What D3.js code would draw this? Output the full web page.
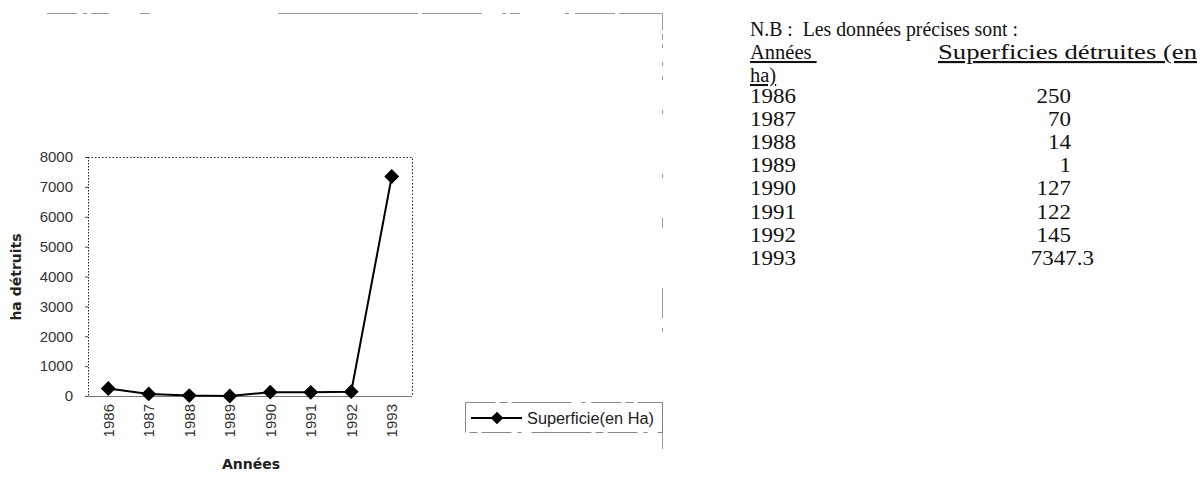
<!DOCTYPE html>
<html><head><meta charset="utf-8">
<script src="https://cdn.jsdelivr.net/npm/d3@7"></script>
<style>body{margin:0;background:#fff}svg{display:block}</style>
</head><body>
<svg id="c" width="1201" height="500"></svg>
<script>
const years = ["1986","1987","1988","1989","1990","1991","1992","1993"];
const values = [250, 70, 14, 1, 127, 122, 145, 7347.3];
const tableValues = ["250","70","14","1","127","122","145","7347.3"];
const yTicks = [0,1000,2000,3000,4000,5000,6000,7000,8000];
const seriesName = "Superficie(en Ha)";
const xTitle = "Années";
const yTitle = "ha détruits";
const noteTitle = "N.B :\u00a0 Les données précises sont :";
const colHead1 = "Années";
const colHead2 = "Superficies détruites (en";
const colHead2b = "ha)";

const svg = d3.select("#c");
const L = 88, R = 412, T = 157, B = 396;
const x = d3.scaleBand().domain(years).range([L, R]);
const y = d3.scaleLinear().domain([0, 8000]).range([B, T]);
const sans = "Liberation Sans, Arial, sans-serif";

// outer chart area border (scanned, broken dashes)
const outer = svg.append("g").attr("fill","none").attr("stroke","#9a9a9a").attr("stroke-width",1);
outer.append("path").attr("d",`M47,13.5H120`).attr("stroke-dasharray","30 6 4 4 18 12");
outer.append("path").attr("d",`M140,13.5H150`);
outer.append("path").attr("d",`M278,13.5H520`).attr("stroke-dasharray","140 4 60 20 4 4");
outer.append("path").attr("d",`M565,13.5H662.5V455`).attr("stroke-dasharray","4 6 40 4 60 4 6 4 4 14 4 10 4 30 4 60 4 40 10 60 30 10 4 70 25 4 18 30 4 40");

// plot frame: dotted top and right, dotted left axis
const frame = svg.append("g").attr("fill","none").attr("stroke","#222").attr("stroke-width",1);
frame.append("path").attr("d",`M${L},${T}.5H${R}.5V${B}`).attr("stroke-dasharray","1.5 2");
frame.append("path").attr("d",`M${L}.5,${T}V${B}`).attr("stroke-dasharray","1.5 1.5");

// y axis
const yAxis = svg.append("g").attr("transform",`translate(${L},0)`)
  .call(d3.axisLeft(y).tickValues(yTicks).tickSize(3).tickPadding(12).tickFormat(d3.format("d")));
yAxis.select(".domain").remove();
yAxis.selectAll(".tick line").attr("stroke","#444");
yAxis.selectAll("text").attr("font-family",sans).attr("font-size",15).attr("fill","#333");

// x axis
const xAxis = svg.append("g").attr("transform",`translate(0,${B})`)
  .call(d3.axisBottom(x).tickSize(0).tickPadding(8));
xAxis.select(".domain").attr("stroke","#777").attr("d",`M${L},0.5H${R}`);
xAxis.selectAll("text")
  .attr("font-family",sans).attr("font-size",15).attr("fill","#333")
  .attr("transform","rotate(-90)").attr("text-anchor","end").attr("dy","0.35em").attr("x",-8).attr("y",0);

// titles
svg.append("text").attr("x",251).attr("y",469).attr("text-anchor","middle")
  .attr("font-family","DejaVu Sans, Verdana, sans-serif").attr("font-weight","bold").attr("font-size",14).attr("fill","#222").text(xTitle);
svg.append("text").attr("transform","translate(21,277) rotate(-90)").attr("text-anchor","middle")
  .attr("font-family","DejaVu Sans, Verdana, sans-serif").attr("font-weight","bold").attr("font-size",14).attr("fill","#222").text(yTitle);

// series
const cx = d => x(d) + x.bandwidth()/2;
const data = years.map((d,i)=>({year:d, v:values[i]}));
svg.append("path").datum(data).attr("fill","none").attr("stroke","#000").attr("stroke-width",2)
  .attr("d", d3.line().x(d=>cx(d.year)).y(d=>y(d.v)));
svg.selectAll(".pt").data(data).join("path").attr("class","pt")
  .attr("d", d3.symbol().type(d3.symbolSquare).size(110))
  .attr("transform",d=>`translate(${cx(d.year)},${y(d.v)}) rotate(45)`)
  .attr("fill","#000");

// legend
const lg = svg.append("g");
lg.append("rect").attr("x",465.5).attr("y",402.5).attr("width",197).attr("height",30)
  .attr("fill","none").attr("stroke","#888").attr("stroke-dasharray","30 4 8 4 60 10 4 6");
lg.append("line").attr("x1",471).attr("x2",522).attr("y1",418).attr("y2",418).attr("stroke","#000").attr("stroke-width",2);
lg.append("path").attr("d", d3.symbol().type(d3.symbolSquare).size(80)).attr("transform","translate(497,418) rotate(45)").attr("fill","#000");
lg.append("text").attr("x",527).attr("y",423.5).attr("font-family",sans).attr("font-size",16).attr("fill","#222")
  .attr("textLength",127).attr("lengthAdjust","spacingAndGlyphs").text(seriesName);

// table note (serif, scanned text slightly wider than natural)
const tf = "Liberation Serif, Times New Roman, serif";
const tg = svg.append("g").attr("font-family",tf).attr("font-size",20.5).attr("fill","#111");
const stretch = (sel, k) => sel.each(function(){ const w=this.getComputedTextLength(); d3.select(this).attr("textLength", w*k).attr("lengthAdjust","spacingAndGlyphs"); });
tg.append("text").attr("x",750).attr("y",36).attr("textLength",268).attr("lengthAdjust","spacingAndGlyphs").text(noteTitle);
tg.append("text").attr("x",750).attr("y",59).attr("text-decoration","underline").text(colHead1 + "\u00a0");
tg.append("text").attr("x",938).attr("y",59).attr("text-decoration","underline")
  .attr("font-size",21.5).attr("textLength",259).attr("lengthAdjust","spacingAndGlyphs").text(colHead2);
tg.append("text").attr("x",750).attr("y",82).attr("text-decoration","underline").text(colHead2b);
const rowY = i => 103 + i*23.1;
tg.selectAll(".yr").data(years).join("text").attr("class","yr").attr("x",750).attr("y",(d,i)=>rowY(i)).text(d=>d)
  .call(stretch, 1.12);
tg.selectAll(".val").data(tableValues).join("text").attr("class","val")
  .attr("x",(d)=> d.includes(".") ? 1094 : 1071).attr("y",(d,i)=>rowY(i)).attr("text-anchor","end").text(d=>d)
  .call(stretch, 1.12);
</script>
</body></html>
